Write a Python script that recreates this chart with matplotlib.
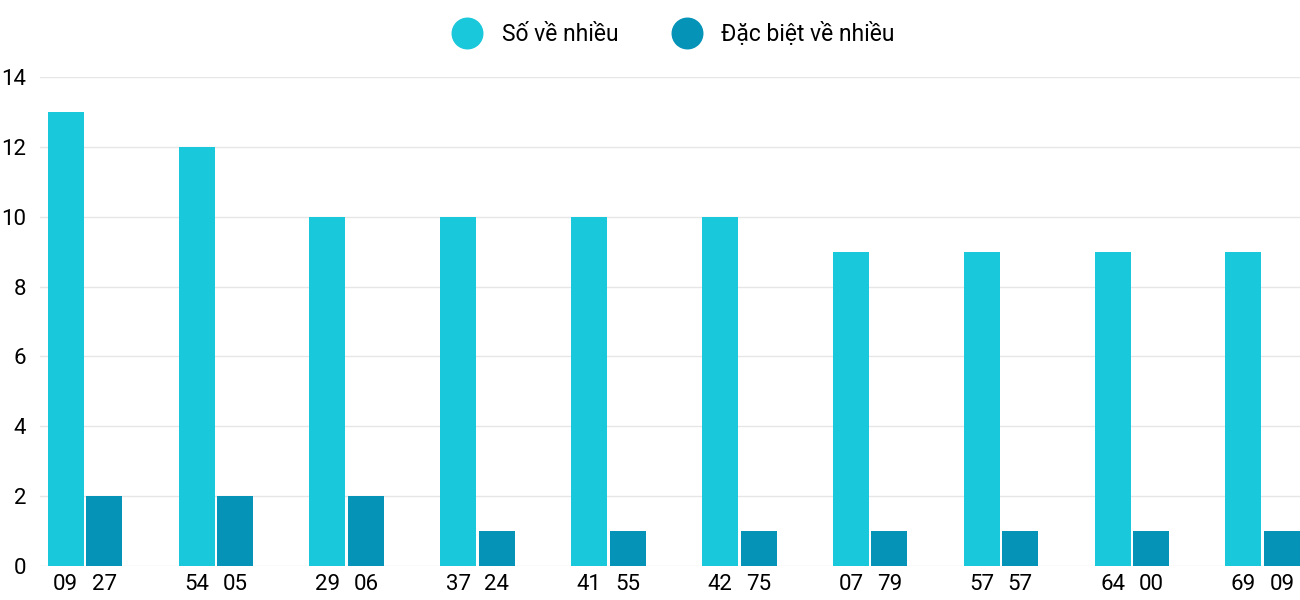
import matplotlib.pyplot as plt
import numpy as np
from matplotlib.lines import Line2D

plt.rcParams['font.family'] = ['Roboto', 'DejaVu Sans']

nums_1 = ['09', '54', '29', '37', '41', '42', '07', '57', '64', '69']
nums_2 = ['27', '05', '06', '24', '55', '75', '79', '57', '00', '09']
so_ve_nhieu = [13, 12, 10, 10, 10, 10, 9, 9, 9, 9]
dac_biet = [2, 2, 2, 1, 1, 1, 1, 1, 1, 1]
colors = ['#1ac8db', '#0593b8']

fig = plt.figure(figsize=(13, 6), dpi=100)
ax = fig.add_axes([40 / 1300, 34 / 600, 1260 / 1300, 489 / 600])

x = np.arange(len(nums_1))
w = 0.275
off = 0.147
ax.bar(x - off, so_ve_nhieu, w, color=colors[0], zorder=3)
ax.bar(x + off, dac_biet, w, color=colors[1], zorder=3)

ax.set_xlim(-0.344, 9.285)
ax.set_ylim(0, 14)
ax.set_yticks(range(0, 15, 2))
ax.set_xticks(np.concatenate([x - off, x + off]))
ax.set_xticklabels(nums_1 + nums_2)
ax.tick_params(axis='both', length=0, labelsize=16, colors='black')
ax.tick_params(axis='y', pad=10)
ax.tick_params(axis='x', pad=6)
ax.grid(axis='y', color='#e6e6e6', linewidth=1, zorder=0)
for s in ax.spines.values():
    s.set_visible(False)

handles = [Line2D([], [], marker='o', linestyle='', markersize=22, color=c) for c in colors]
fig.legend(handles, ['Số về nhiều', 'Đặc biệt về nhiều'], loc='upper center',
           bbox_to_anchor=(0.515, 0.998), ncol=2, frameon=False, fontsize=16.5,
           handletextpad=0.5, columnspacing=2)

fig.savefig('out.png')
